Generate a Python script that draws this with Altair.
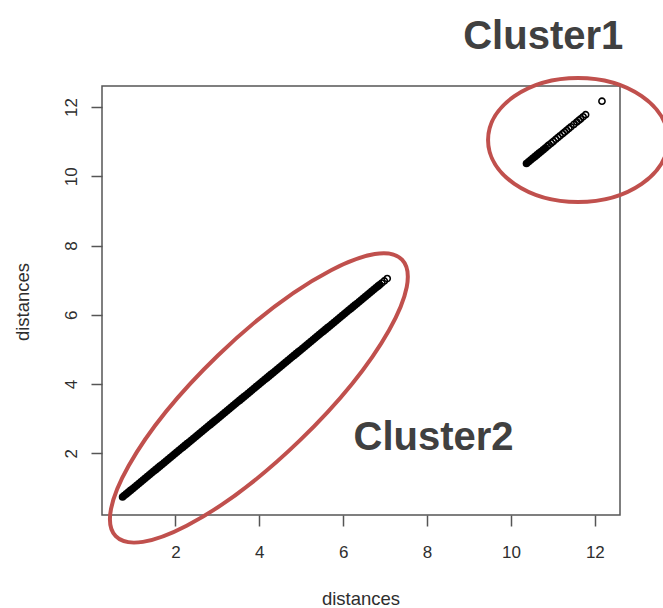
import altair as alt
import pandas as pd

# ---- values (x = y = distance) ----
cluster2_dense = [
    0.74, 0.78, 0.83, 0.88, 0.93, 0.98, 1.03, 1.08, 1.13, 1.18,
    1.23, 1.28, 1.33, 1.38, 1.43, 1.48, 1.53, 1.58, 1.63, 1.68,
    1.73, 1.78, 1.83, 1.88, 1.93, 1.98, 2.03, 2.08, 2.13, 2.18,
    2.23, 2.28, 2.33, 2.38, 2.43, 2.48, 2.53, 2.58, 2.63, 2.68,
    2.73, 2.78, 2.83, 2.88, 2.93, 2.98, 3.03, 3.08, 3.13, 3.18,
    3.23, 3.28, 3.33, 3.38, 3.43, 3.48, 3.53, 3.58, 3.63, 3.68,
    3.73, 3.78, 3.83, 3.88, 3.93, 3.98, 4.03, 4.08, 4.13, 4.18,
    4.23, 4.28, 4.33, 4.38, 4.43, 4.48, 4.53, 4.58, 4.63, 4.68,
    4.73, 4.78, 4.83, 4.88, 4.93, 4.98, 5.03, 5.08, 5.13, 5.18,
    5.23, 5.28, 5.33, 5.38, 5.43, 5.48, 5.53, 5.58, 5.63, 5.68,
    5.73, 5.78, 5.83, 5.88, 5.93, 5.98, 6.03, 6.08, 6.13, 6.18,
    6.23, 6.28, 6.33, 6.38, 6.43, 6.48, 6.53, 6.58, 6.63, 6.68,
    6.73, 6.78, 6.83, 6.87,
]
cluster2_sparse = [6.92, 6.98, 7.05]
cluster1_dense = [10.37, 10.42, 10.47, 10.52, 10.57, 10.62, 10.67, 10.72,
                  10.77, 10.82]
cluster1_sparse = [
    10.87, 10.91, 10.96, 11.01, 11.07, 11.12, 11.17, 11.23, 11.28,
    11.33, 11.38, 11.43, 11.50, 11.57, 11.62, 11.66, 11.72, 11.78, 12.17,
]

tick_values = [2, 4, 6, 8, 10, 12]

label_text = ["Cluster1", "Cluster2"]
label_x = [10.77, 8.155]
label_y = [13.68, 2.095]

ellipse1_center = [11.60, 11.05]
ellipse2_center = [3.99, 3.60]


def ellipse_path(q):
    c = 0.5523
    return (f"M -1 0 C -1 {-c*q:.4f} {-c:.4f} {-q:.4f} 0 {-q:.4f} "
            f"C {c:.4f} {-q:.4f} 1 {-c*q:.4f} 1 0 "
            f"C 1 {c*q:.4f} {c:.4f} {q:.4f} 0 {q:.4f} "
            f"C {-c:.4f} {q:.4f} -1 {c*q:.4f} -1 0 Z")


xs = alt.Scale(domain=[0.25, 12.6], nice=False, zero=False)
ys = alt.Scale(domain=[0.22, 12.61], nice=False, zero=False)

x_axis = alt.Axis(
    values=tick_values, title="distances", domain=False, grid=False,
    ticks=True, tickSize=11, tickColor="#555555", tickWidth=1.5,
    labelFontSize=17, labelColor="#2e2e2e", labelPadding=31,
    labelBaseline="alphabetic", labelFlush=False,
    titleFontSize=18.5, titleFontWeight="normal", titleColor="#2e2e2e",
    titleX=258.5, titleY=89, titleBaseline="alphabetic", titleAlign="center",
)
y_axis = alt.Axis(
    values=tick_values, title="distances", domain=False, grid=False,
    ticks=True, tickSize=11, tickColor="#555555", tickWidth=1.5,
    labelFontSize=17, labelColor="#2e2e2e", labelPadding=15,
    labelAngle=270, labelAlign="center", labelBaseline="alphabetic",
    labelFlush=False,
    titleFontSize=18.5, titleFontWeight="normal", titleColor="#2e2e2e",
    titleAngle=270, titleX=-74, titleY=215.5, titleBaseline="alphabetic",
    titleAlign="center",
)


def enc(ch):
    return ch.encode(
        x=alt.X("x:Q", scale=xs, axis=x_axis),
        y=alt.Y("y:Q", scale=ys, axis=y_axis),
    )


dense_df = pd.DataFrame({"x": cluster2_dense + cluster1_dense,
                         "y": cluster2_dense + cluster1_dense})
sparse_df = pd.DataFrame({"x": cluster2_sparse + cluster1_sparse,
                          "y": cluster2_sparse + cluster1_sparse})

dense = enc(alt.Chart(dense_df).mark_point(
    shape="circle", filled=True, color="black", size=58, opacity=1))
sparse = enc(alt.Chart(sparse_df).mark_point(
    shape="circle", filled=False, color="black", size=38, strokeWidth=1.6,
    opacity=1))

e1 = enc(alt.Chart(pd.DataFrame({"x": [ellipse1_center[0]],
                                 "y": [ellipse1_center[1]]})).mark_point(
    shape=ellipse_path(62 / 90), size=180 ** 2, filled=False,
    color="#c0504d", strokeWidth=4, opacity=1))
e2 = enc(alt.Chart(pd.DataFrame({"x": [ellipse2_center[0]],
                                 "y": [ellipse2_center[1]]})).mark_point(
    shape=ellipse_path(59 / 199), size=398 ** 2, angle=316, filled=False,
    color="#c0504d", strokeWidth=4, opacity=1))

labels_df = pd.DataFrame({"x": label_x, "y": label_y, "t": label_text})
labels = alt.Chart(labels_df).mark_text(
    font="Liberation Sans", fontWeight="bold", fontSize=40, color="#404040",
    align="center", baseline="alphabetic").encode(
    x=alt.X("x:Q", scale=xs, axis=x_axis),
    y=alt.Y("y:Q", scale=ys, axis=y_axis),
    text="t:N",
)

chart = alt.layer(dense, sparse, e1, e2, labels).properties(
    width=518, height=429,
    autosize=alt.AutoSizeParams(type="none"),
    padding={"left": 102, "top": 86, "right": 43, "bottom": 93},
    background="white",
).configure(font="Liberation Sans").configure_view(
    stroke="#555555", strokeWidth=1.5)

chart.save("out.html", embed_options={"renderer": "svg", "actions": False})
